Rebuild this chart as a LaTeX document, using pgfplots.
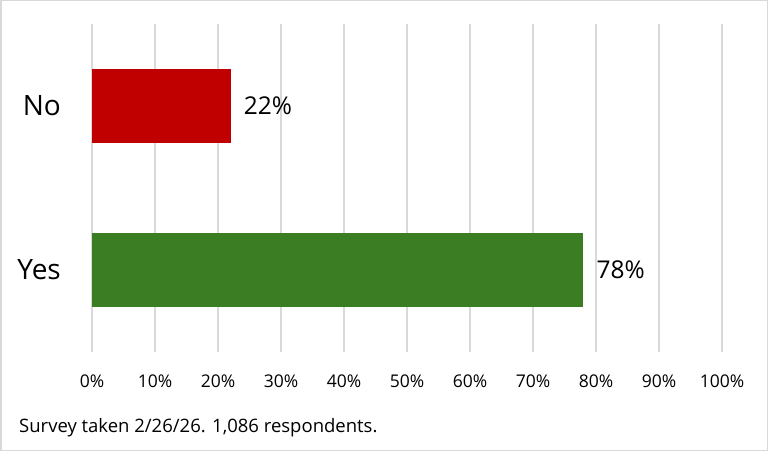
\documentclass[border=0pt]{standalone}
\usepackage{fontspec}
\setmainfont{Open Sans}
\usepackage{pgfplots}
\pgfplotsset{compat=1.18}
\definecolor{barred}{HTML}{C00000}
\definecolor{bargreen}{HTML}{3B7D23}
\definecolor{gridgray}{HTML}{D9D9D9}
\definecolor{framegray}{HTML}{D9D9D9}
\begin{document}
\begin{tikzpicture}
\path[use as bounding box] (0,0) rectangle (768pt,451pt);
\draw[framegray, line width=1.5pt] (0.75pt,0.75pt) rectangle (767.25pt,450.25pt);
\begin{axis}[
  at={(92pt,99pt)}, anchor=south west,
  scale only axis, width=630pt, height=328pt,
  xbar, bar width=74pt, bar shift=0pt,
  xmin=0, xmax=100, ymin=-0.5, ymax=1.5,
  xtick={0,10,...,100}, ytick={0,1}, yticklabels={Yes,No},
  /pgf/number format/assume math mode=true,
  xticklabel={\pgfmathprintnumber{\tick}\%},
  axis line style={draw=none}, major tick length=0pt,
  xmajorgrids, grid style={gridgray, line width=1.2pt},
  xticklabel style={font=\fontsize{17.5}{20}\selectfont, inner sep=0pt, anchor=base, yshift=-35pt},
  yticklabel style={font=\fontsize{28}{32}\selectfont, inner sep=0pt, anchor=east, xshift=-31pt},
  nodes near coords={\pgfmathprintnumber{\pgfplotspointmeta}\%},
  nodes near coords style={font=\fontsize{24.5}{28}\selectfont, anchor=west, inner sep=0pt, xshift=13pt},
]
\addplot[fill=barred, draw=none] coordinates {(22,1)};
\addplot[fill=bargreen, draw=none] coordinates {(78,0)};
\end{axis}
\node[anchor=base west, inner sep=0pt, font=\fontsize{18.5}{22}\selectfont] at (19pt,19pt) {Survey taken 2/26/26. 1,086 respondents.};
\end{tikzpicture}
\end{document}
